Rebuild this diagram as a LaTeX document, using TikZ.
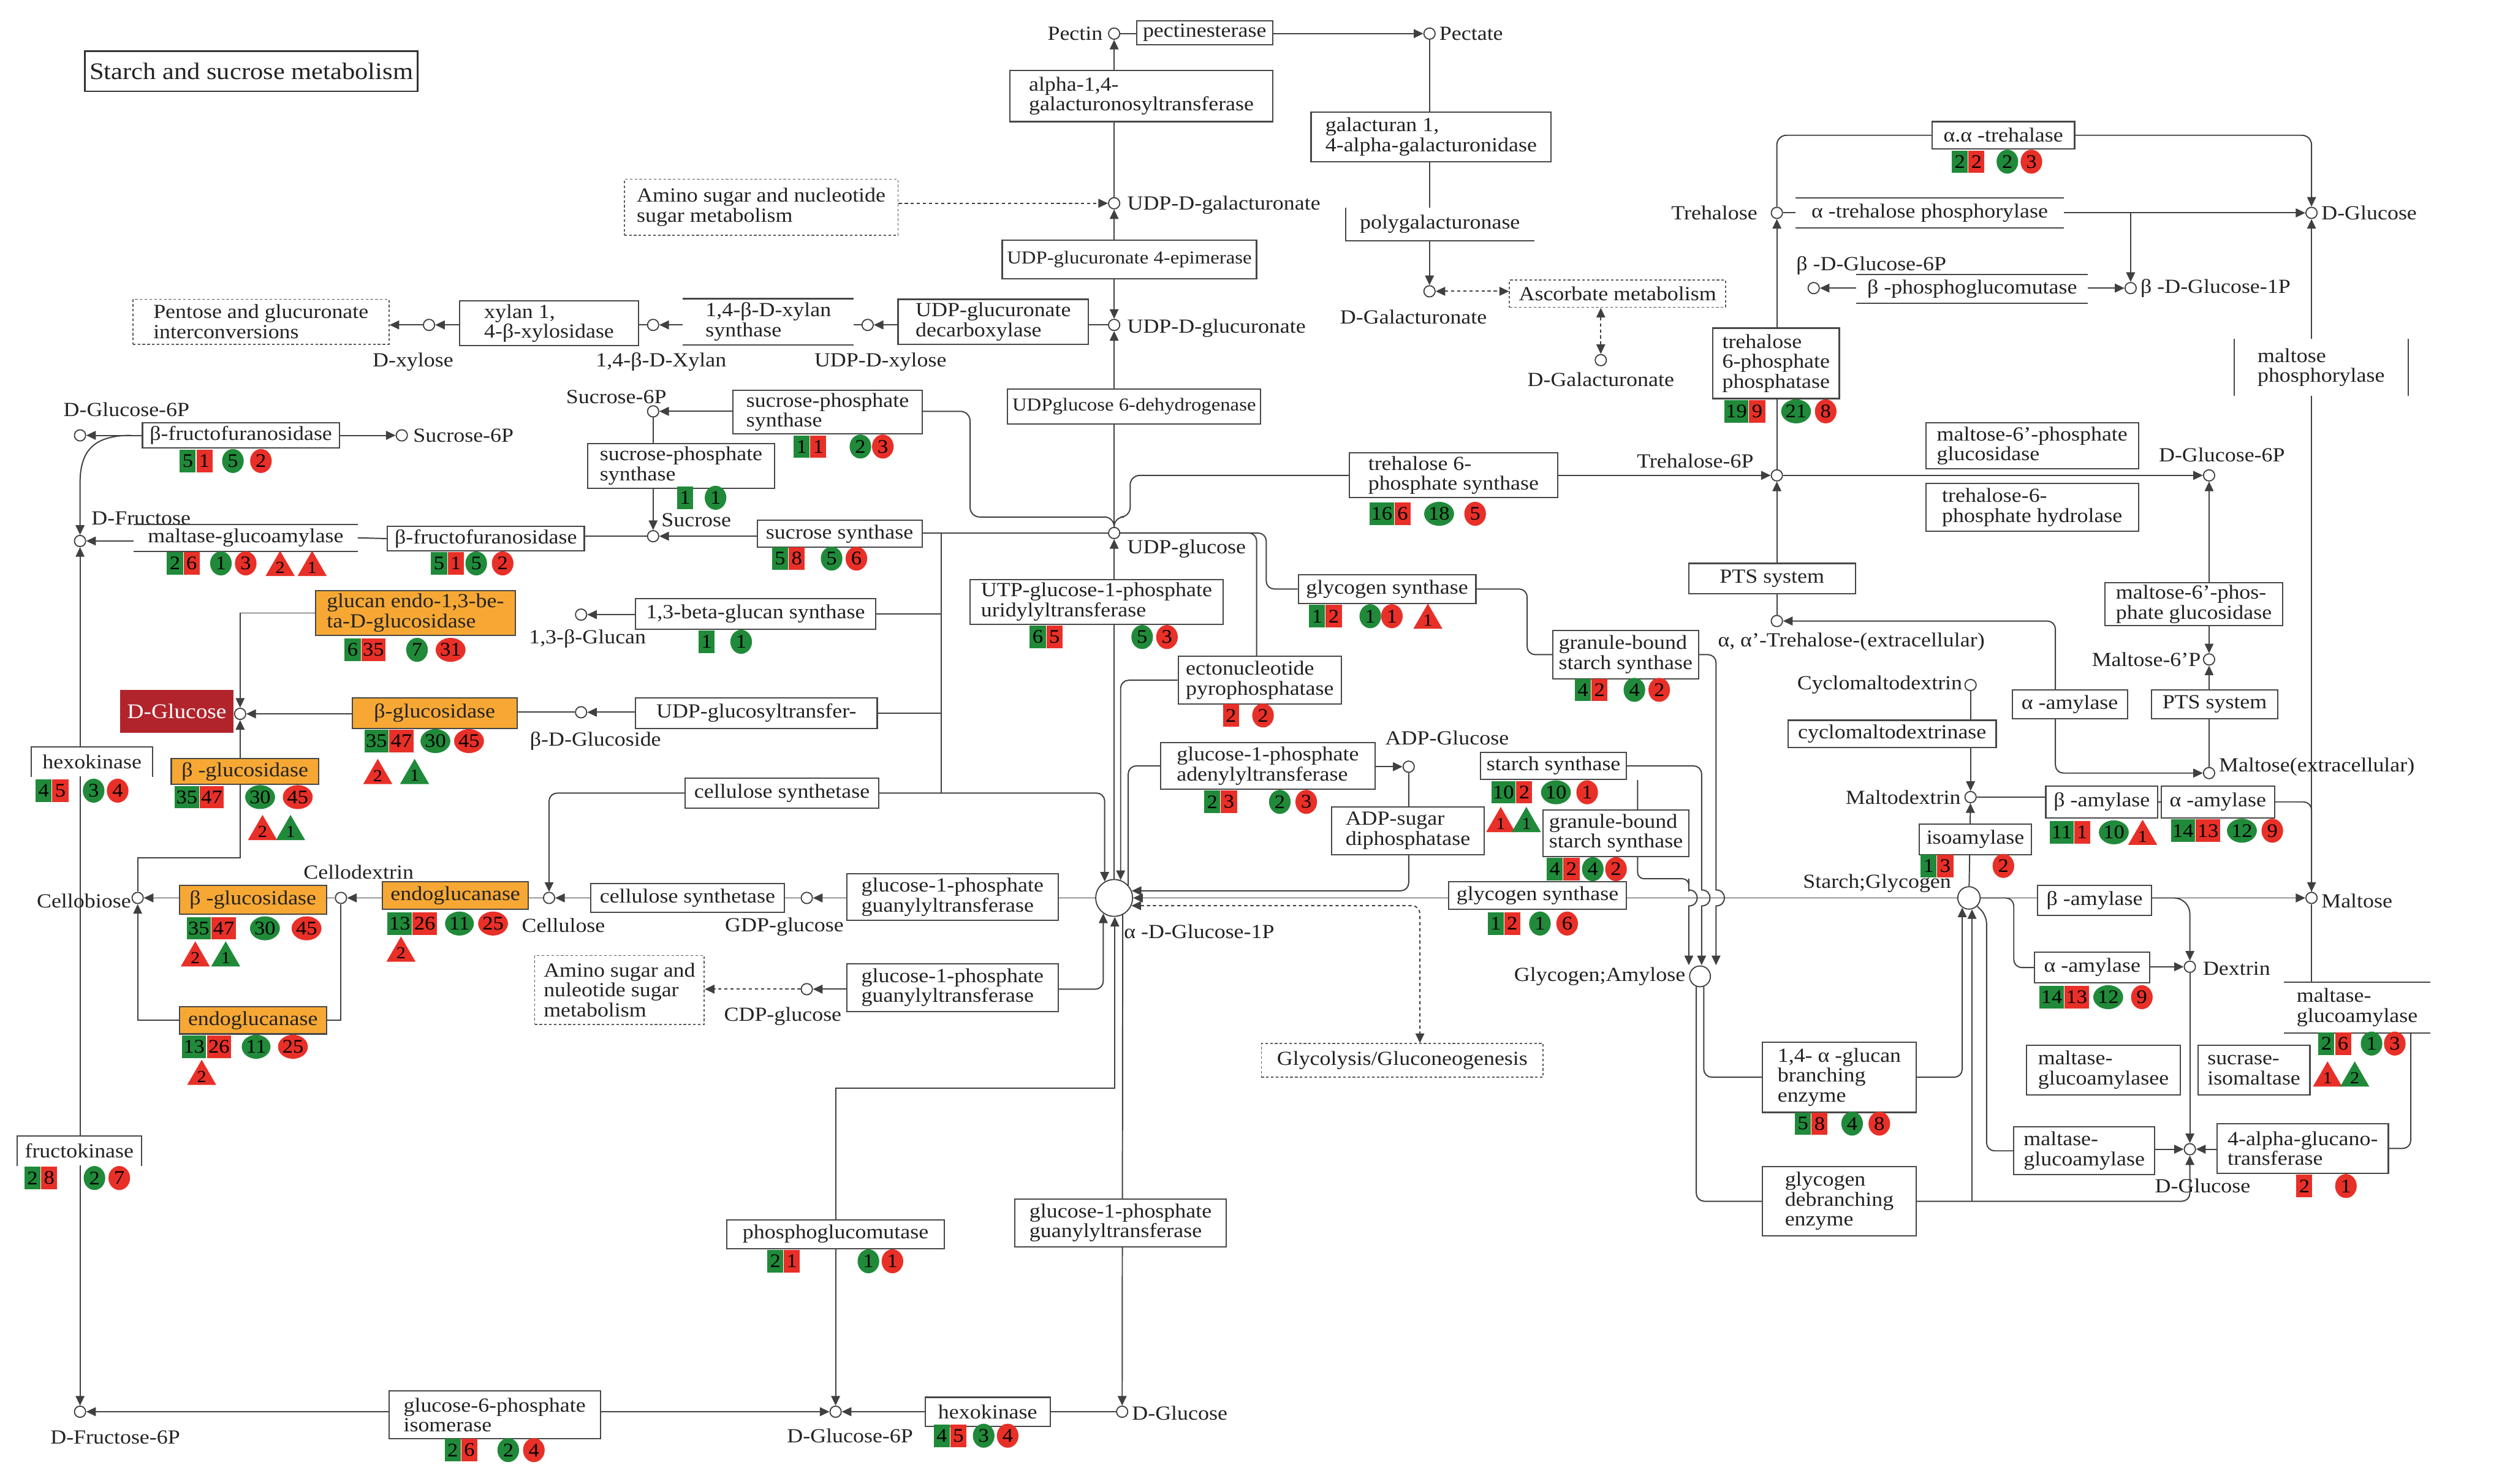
\documentclass[tikz,border=0pt]{standalone}
\usepackage{fontspec}
\setmainfont{Liberation Serif}[FakeStretch=1.1]
\usetikzlibrary{arrows.meta,shapes.geometric}
\definecolor{kg}{RGB}{32,138,58}
\definecolor{kr}{RGB}{232,48,40}
\definecolor{korange}{RGB}{247,168,52}
\definecolor{kdred}{RGB}{178,36,44}
\definecolor{ink}{RGB}{35,35,35}
\pgfdeclarelayer{back}
\pgfdeclarelayer{bg}
\pgfsetlayers{back,bg,main}
\newcommand\lblfont{\fontsize{12.5}{12.5}\selectfont}
\newcommand\smfont{\fontsize{11.4}{11.5}\selectfont}
\newcommand\bfnt{\fontsize{12}{12}\selectfont}
\newcommand\tfnt{\fontsize{10.5}{10.5}\selectfont}
\newcounter{bc}
\tikzset{
 enz/.style={draw=black!72,line width=0.8pt,fill=white,inner xsep=3pt,inner ysep=0pt,align=left,font=\lblfont,text=ink},
 orng/.style={fill=korange},
 dbox/.style={draw=black!65,dash pattern=on 1.6pt off 1.4pt,line width=0.7pt},
 nob/.style={draw=none},
 lbl/.style={inner sep=0pt,font=\lblfont,text=ink},
 cpd/.style={circle,draw=black!75,line width=0.7pt,fill=white,minimum size=7pt,inner sep=0pt},
 ln/.style={draw=black!75,line width=0.75pt},
 dsl/.style={dash pattern=on 2pt off 1.8pt},
 bl/.style={draw=black!72,line width=0.8pt},
 arr/.style={-{Triangle[length=6pt,width=5.5pt]}},
 arrb/.style={{Triangle[length=6pt,width=5.5pt]}-{Triangle[length=6pt,width=5.5pt]}},
 bsq/.style={rectangle,inner xsep=1pt,inner ysep=0pt,minimum height=14pt,minimum width=10pt,font=\bfnt,text=black},
 bci/.style={ellipse,inner sep=0pt,minimum height=15pt,minimum width=13.5pt,font=\bfnt,text=black},
 btr/.style={regular polygon,regular polygon sides=3,inner sep=0pt,minimum size=21pt,font=\tfnt,text=black},
}
\newcommand\EB[7][]{\pgfmathsetmacro\ebw{(#5)-(#3)}\pgfmathsetmacro\ebh{(#6)-(#4)}%
 \pgfmathsetmacro\ebx{((#3)+(#5))/2}\pgfmathsetmacro\eby{((#4)+(#6))/2}%
 \node[enz,minimum width=\ebw pt,minimum height=\ebh pt,#1] (#2) at (\ebx,\eby) {#7};}
\newcommand\SQ[4]{\stepcounter{bc}\node[bsq,fill=kg,anchor=east] (bd\arabic{bc}) at (#1,#2) {#3};\stepcounter{bc}\node[bsq,fill=kr,anchor=west] (bd\arabic{bc}) at (#1,#2) {#4};}
\newcommand\GS[3]{\stepcounter{bc}\node[bsq,fill=kg] (bd\arabic{bc}) at (#1,#2) {#3};}
\newcommand\RS[3]{\stepcounter{bc}\node[bsq,fill=kr] (bd\arabic{bc}) at (#1,#2) {#3};}
\newcommand\GC[3]{\stepcounter{bc}\node[bci,fill=kg] (bd\arabic{bc}) at (#1,#2) {#3};}
\newcommand\RC[3]{\stepcounter{bc}\node[bci,fill=kr] (bd\arabic{bc}) at (#1,#2) {#3};}
\newcommand\GT[3]{\stepcounter{bc}\node[btr,fill=kg] (bd\arabic{bc}) at (#1,{#2+2.6}) {#3};}
\newcommand\RT[3]{\stepcounter{bc}\node[btr,fill=kr] (bd\arabic{bc}) at (#1,{#2+2.6}) {#3};}
\begin{document}
\begin{tikzpicture}[x=1pt,y=-1pt]
\useasboundingbox (0,0) rectangle (1568,927);
\begin{pgfonlayer}{back}
\fill[white] (0,0) rectangle (1568,927);
\end{pgfonlayer}
% ---------- title
\node[draw=black!80,line width=1pt,font=\fontsize{14.8}{16}\selectfont,text=ink,minimum width=208pt,minimum height=25pt,inner sep=0pt] (title) at (157,44.5) {Starch and sucrose metabolism};
% ---------- compounds
\node[cpd] (cPectin) at (696,21) {};
\node[cpd] (cPectate) at (893,21) {};
\node[cpd] (cUDPgal) at (696,127) {};
\node[cpd] (cUDPglc) at (696,203) {};
\node[cpd] (cUDPxyl) at (542,203) {};
\node[cpd] (cXylan) at (408,203) {};
\node[cpd] (cXylose) at (268,203) {};
\node[cpd] (cDGalA) at (893,182) {};
\node[cpd] (cDGalB) at (1000,225) {};
\node[cpd] (cG6Ptl) at (50,272) {};
\node[cpd] (cS6Pa) at (251,272) {};
\node[cpd] (cS6Pb) at (408,257) {};
\node[cpd] (cSuc) at (408,335) {};
\node[cpd] (cFru) at (50,338) {};
\node[cpd] (cUDPG) at (696,333) {};
\node[cpd] (cGlucan) at (363,384) {};
\node[cpd] (cGlucoside) at (363,445) {};
\node[cpd] (cGlc) at (150,446) {};
\node[cpd] (cCellobiose) at (86,561) {};
\node[cpd] (cCellodextrin) at (213,561) {};
\node[cpd] (cCellulose) at (343,561) {};
\node[cpd] (cGDP) at (504,561) {};
\node[cpd] (cCDP) at (504,618) {};
\node[cpd,minimum size=23pt] (cG1P) at (696,561) {};
\node[cpd] (cADPG) at (880,479) {};
\node[cpd,minimum size=13pt] (cGlyAm) at (1062,610) {};
\node[cpd,minimum size=14pt] (cStarch) at (1230,561) {};
\node[cpd] (cTre) at (1110,133) {};
\node[cpd] (cT6P) at (1110,297) {};
\node[cpd] (cTreEx) at (1110,388) {};
\node[cpd] (cDGlcR) at (1444,133) {};
\node[cpd] (cbG1P) at (1331,180) {};
\node[cpd] (cbG6P) at (1133,180) {};
\node[cpd] (cG6PR) at (1380,297) {};
\node[cpd] (cM6P) at (1380,412) {};
\node[cpd] (cMalEx) at (1380,483) {};
\node[cpd] (cCyclo) at (1231,428) {};
\node[cpd] (cMdex) at (1231,498) {};
\node[cpd] (cMaltose) at (1444,561) {};
\node[cpd] (cDextrin) at (1368,604) {};
\node[cpd] (cDGlcB) at (1368,718) {};
\node[cpd] (cF6P) at (50,882) {};
\node[cpd] (cG6Pb) at (522,882) {};
\node[cpd] (cGlcB) at (701,882) {};
% ---------- compound labels
\node[lbl,anchor=east] (lPectin) at (689,21) {Pectin};
\node[lbl,anchor=west] (lPectate) at (899,21) {Pectate};
\node[lbl,anchor=west] (lUDPgal) at (704,128) {UDP-D-galacturonate};
\node[lbl,anchor=west] (lUDPglc) at (704,205) {UDP-D-glucuronate};
\node[lbl] (lUDPxyl) at (550,226) {UDP-D-xylose};
\node[lbl] (lXylan) at (413,226) {1,4-β-D-Xylan};
\node[lbl] (lXylose) at (258,226) {D-xylose};
\node[lbl] (lDGalA) at (883,198) {D-Galacturonate};
\node[lbl] (lDGalB) at (1000,237) {D-Galacturonate};
\node[lbl] (lG6Ptl) at (79,256) {D-Glucose-6P};
\node[lbl,anchor=west] (lS6Pa) at (258,272) {Sucrose-6P};
\node[lbl] (lS6Pb) at (385,248) {Sucrose-6P};
\node[lbl,anchor=west] (lSuc) at (413,325) {Sucrose};
\node[lbl,anchor=west] (lFru) at (57,324) {D-Fructose};
\node[lbl,anchor=west] (lUDPG) at (704,343) {UDP-glucose};
\node[lbl] (lGlucan) at (367,399) {1,3-β-Glucan};
\node[lbl] (lGlucoside) at (372,463) {β-D-Glucoside};
\node[lbl] (lCellodextrin) at (224,545) {Cellodextrin};
\node[lbl,anchor=east] (lCellobiose) at (82,563) {Cellobiose};
\node[lbl] (lCellulose) at (352,578) {Cellulose};
\node[lbl] (lGDP) at (490,579) {GDP-glucose};
\node[lbl] (lCDP) at (489,635) {CDP-glucose};
\node[lbl,anchor=west] (lG1P) at (702,582) {α -D-Glucose-1P};
\node[lbl] (lADPG) at (904,461) {ADP-Glucose};
\node[lbl,anchor=east] (lGlyAm) at (1053,610) {Glycogen;Amylose};
\node[lbl,anchor=east] (lStarch) at (1219,552) {Starch;Glycogen};
\node[lbl,anchor=east] (lTre) at (1098,133) {Trehalose};
\node[lbl] (lT6P) at (1059,288) {Trehalose-6P};
\node[lbl,anchor=west] (lTreEx) at (1073,401) {α, α’-Trehalose-(extracellular)};
\node[lbl,anchor=east] (lCyclo) at (1226,428) {Cyclomaltodextrin};
\node[lbl,anchor=east] (lMdex) at (1225,498) {Maltodextrin};
\node[lbl,anchor=west] (lDGlcR) at (1450,133) {D-Glucose};
\node[lbl,anchor=west] (lbG1P) at (1337,180) {β -D-Glucose-1P};
\node[lbl] (lbG6P) at (1169,166) {β -D-Glucose-6P};
\node[lbl] (lG6PR) at (1388,284) {D-Glucose-6P};
\node[lbl,anchor=east] (lM6P) at (1375,412) {Maltose-6’P};
\node[lbl,anchor=west] (lMalEx) at (1386,479) {Maltose(extracellular)};
\node[lbl,anchor=west] (lMaltose) at (1450,563) {Maltose};
\node[lbl,anchor=west] (lDextrin) at (1376,605) {Dextrin};
\node[lbl] (lDGlcB) at (1376,741) {D-Glucose};
\node[lbl] (lF6P) at (72,898) {D-Fructose-6P};
\node[lbl] (lG6Pb) at (531,897) {D-Glucose-6P};
\node[lbl,anchor=west] (lGlcB) at (707,883) {D-Glucose};
% ---------- enzyme boxes
\EB{pectinest}{710}{13}{795}{28}{pectinesterase}
\EB{galtr}{631}{44}{795}{76}{alpha-1,4-\\galacturonosyltransferase}
\EB{galacturan}{819}{70}{969}{101}{galacturan 1,\\4-alpha-galacturonidase}
\EB[nob]{polygal}{841}{130}{958}{150}{polygalacturonase}
\EB[dbox]{ascorbate}{943}{175}{1078}{192}{Ascorbate metabolism}
\EB[dbox]{aminoA}{390}{112}{561}{147}{Amino sugar and nucleotide\\sugar metabolism}
\EB[font=\smfont]{epim}{627}{150}{784}{174}{UDP-glucuronate 4-epimerase}
\EB{decarb}{561}{187}{680}{215}{UDP-glucuronate\\decarboxylase}
\EB[nob]{xylsyn}{427}{187}{533}{215}{1,4-β-D-xylan\\synthase}
\EB{xylosid}{287}{188}{399}{216}{xylan 1,\\4-β-xylosidase}
\EB[dbox]{pentose}{83}{187}{243}{215}{Pentose and glucuronate\\interconversions}
\EB[font=\smfont]{dehyd}{632}{243}{785}{265}{UDPglucose 6-dehydrogenase}
\EB{bff1}{89}{264}{212}{280}{β-fructofuranosidase}
\EB{sps1}{458}{244}{576}{271}{sucrose-phosphate\\synthase}
\EB{sps2}{367}{277}{484}{305}{sucrose-phosphate\\synthase}
\EB[nob]{mga1}{84}{328}{223}{344}{maltase-glucoamylase}
\EB{bff2}{242}{329}{365}{344}{β-fructofuranosidase}
\EB{sucsyn}{473}{325}{576}{342}{sucrose synthase}
\EB[orng]{glucanendo}{197}{369}{322}{397}{glucan endo-1,3-be-\\ta-D-glucosidase}
\EB[orng]{bgs1}{220}{436}{323}{455}{β-glucosidase}
\EB{glucansyn}{397}{374}{547}{393}{1,3-beta-glucan synthase}
\EB{udpgt}{397}{436}{548}{455}{UDP-glucosyltransfer-}
\EB[nob]{hexo1}{20}{467}{95}{485}{hexokinase}
\EB[orng]{bgs2}{107}{474}{199}{490}{β -glucosidase}
\EB{cellsyn1}{428}{486}{549}{505}{cellulose synthetase}
\EB[orng]{bgs3}{112}{553}{204}{571}{β -glucosidase}
\EB[orng]{endo1}{239}{551}{330}{568}{endoglucanase}
\EB{cellsyn2}{369}{552}{490}{570}{cellulose synthetase}
\EB{gpgt1}{529}{546}{661}{575}{glucose-1-phosphate\\guanylyltransferase}
\EB{gpgt2}{529}{602}{661}{632}{glucose-1-phosphate\\guanylyltransferase}
\EB[dbox]{aminoB}{334}{597}{440}{640}{Amino sugar and\\nuleotide sugar\\metabolism}
\EB[orng]{endo2}{112}{629}{204}{646}{endoglucanase}
\EB[nob]{fructok}{11}{710}{88}{728}{fructokinase}
\EB{pgm}{454}{762}{590}{780}{phosphoglucomutase}
\EB{gpgt3}{634}{749}{766}{779}{glucose-1-phosphate\\guanylyltransferase}
\EB{g6pi}{243}{869}{375}{899}{glucose-6-phosphate\\isomerase}
\EB{hexo2}{578}{873}{656}{891}{hexokinase}
\EB{utp}{606}{362}{764}{390}{UTP-glucose-1-phosphate\\uridylyltransferase}
\EB{ecto}{736}{410}{838}{440}{ectonucleotide\\pyrophosphatase}
\EB{adpt}{725}{464}{859}{493}{glucose-1-phosphate\\adenylyltransferase}
\EB{adpsug}{832}{504}{927}{534}{ADP-sugar\\diphosphatase}
\EB{glysyn1}{811}{359}{922}{377}{glycogen synthase}
\EB{gbss1}{970}{394}{1061}{424}{granule-bound\\starch synthase}
\EB{starchsyn}{925}{470}{1016}{487}{starch synthase}
\EB{gbss2}{964}{506}{1055}{535}{granule-bound\\starch synthase}
\EB{glysyn2}{905}{551}{1016}{568}{glycogen synthase}
\EB[dbox]{glycolysis}{788}{652}{964}{673}{Glycolysis/Gluconeogenesis}
\EB{t6ps}{843}{283}{973}{311}{trehalose 6-\\phosphate synthase}
\EB{t6pp}{1070}{205}{1149}{249}{trehalose\\6-phosphate\\phosphatase}
\EB{pts1}{1055}{352}{1159}{371}{PTS system}
\EB{trehalase}{1207}{76}{1296}{93}{α.α -trehalase}
\EB[nob]{trephos}{1122}{124}{1289}{142}{α -trehalose phosphorylase}
\EB[nob]{bpgm}{1160}{172}{1304}{189}{β -phosphoglucomutase}
\EB[nob]{maltphos}{1396}{212}{1504}{247}{maltose\\phosphorylase}
\EB{m6pg}{1203}{264}{1336}{293}{maltose-6'-phosphate\\glucosidase}
\EB{t6ph}{1203}{302}{1336}{332}{trehalose-6-\\phosphate hydrolase}
\EB{m6pg2}{1315}{364}{1426}{391}{maltose-6'-phos-\\phate glucosidase}
\EB{pts2}{1344}{431}{1423}{449}{PTS system}
\EB{aamy1}{1257}{431}{1329}{449}{α -amylase}
\EB{cdase}{1117}{450}{1247}{467}{cyclomaltodextrinase}
\EB{bamy1}{1278}{491}{1348}{511}{β -amylase}
\EB{aamy2}{1350}{491}{1421}{511}{α -amylase}
\EB{isoamy}{1199}{515}{1269}{534}{isoamylase}
\EB{bamy2}{1273}{553}{1344}{572}{β -amylase}
\EB{aamy3}{1271}{595}{1343}{614}{α -amylase}
\EB[nob]{mga2}{1427}{614}{1518}{645}{maltase-\\glucoamylase}
\EB{branch}{1101}{651}{1197}{695}{1,4- α -glucan\\branching\\enzyme}
\EB{mgae}{1266}{653}{1362}{684}{maltase-\\glucoamylasee}
\EB{sis}{1373}{653}{1443}{684}{sucrase-\\isomaltase}
\EB{mga3}{1258}{704}{1346}{734}{maltase-\\glucoamylase}
\EB{agt}{1385}{702}{1492}{733}{4-alpha-glucano-\\transferase}
\EB{debranch}{1101}{729}{1197}{772}{glycogen\\debranching\\enzyme}
\node[fill=kdred,text=white,font=\fontsize{13}{13}\selectfont,minimum width=71pt,minimum height=27pt,inner sep=0pt] (dglcbox) at (110.5,444.5) {D-Glucose};
% partial borders
\draw[bl] (xylsyn.north west) -- (xylsyn.north east) (xylsyn.south west) -- (xylsyn.south east);
\draw[bl] (mga1.north west) -- (mga1.north east) (mga1.south west) -- (mga1.south east);
\draw[bl] (trephos.north west) -- (trephos.north east) (trephos.south west) -- (trephos.south east);
\draw[bl] (bpgm.north west) -- (bpgm.north east) (bpgm.south west) -- (bpgm.south east);
\draw[bl] (mga2.north west) -- (mga2.north east) (mga2.south west) -- (mga2.south east);
\draw[bl] (polygal.north west) -- (polygal.south west) -- (polygal.south east);
\draw[bl] (maltphos.north west) -- (maltphos.south west) (maltphos.north east) -- (maltphos.south east);
\draw[bl] (hexo1.south west) -- (hexo1.north west) -- (hexo1.north east) -- (hexo1.south east);
\draw[bl] (fructok.south west) -- (fructok.north west) -- (fructok.north east) -- (fructok.south east);
% ---------- badges
\SQ{122.5}{288}{5}{1}\GC{145.5}{288}{5}\RC{163}{288}{2}
\SQ{506}{279}{1}{1}\GC{537.5}{279}{2}\RC{551.5}{279}{3}
\GS{428}{311}{1}\GC{447}{311}{1}
\SQ{114.5}{352}{2}{6}\GC{138}{352}{1}\RC{153.5}{352}{3}\RT{175}{352}{2}\RT{195}{352}{1}
\SQ{279.5}{352}{5}{1}\GC{297.5}{352}{5}\RC{314}{352}{2}
\SQ{492.5}{349}{5}{8}\GC{519.5}{349}{5}\RC{535}{349}{6}
\SQ{225.5}{406}{6}{35}\GC{260.5}{406}{7}\RC{281.5}{406}{31}
\GS{441.5}{401}{1}\GC{463}{401}{1}
\SQ{243}{463}{35}{47}\GC{272}{463}{30}\RC{293}{463}{45}\RT{236}{482}{2}\GT{259}{482}{1}
\SQ{653.5}{398}{6}{5}\GC{713.5}{398}{5}\RC{729}{398}{3}
\RS{769}{447}{2}\RC{789}{447}{2}
\SQ{32.5}{494}{4}{5}\GC{58.5}{494}{3}\RC{73.5}{494}{4}
\SQ{124.5}{498}{35}{47}\GC{162.5}{498}{30}\RC{186}{498}{45}\RT{164}{517}{2}\GT{181.5}{517}{1}
\SQ{762.5}{501}{2}{3}\GC{799.5}{501}{2}\RC{816}{501}{3}
\SQ{828}{385}{1}{2}\GC{856}{385}{1}\RC{869.5}{385}{1}\RT{892}{385}{1}
\SQ{994}{431}{4}{2}\GC{1021}{431}{4}\RC{1036.5}{431}{2}
\SQ{947}{495}{10}{2}\GC{972}{495}{10}\RC{991.5}{495}{1}\RT{937.5}{512}{1}\GT{953.5}{512}{1}
\SQ{976.5}{543}{4}{2}\GC{995}{543}{4}\RC{1009.5}{543}{2}
\SQ{939.5}{577}{1}{2}\GC{962}{577}{1}\RC{979}{577}{6}
\SQ{132}{580}{35}{47}\GC{165.5}{580}{30}\RC{191.5}{580}{45}\RT{122}{596}{2}\GT{141}{596}{1}
\SQ{257.5}{577}{13}{26}\GC{287}{577}{11}\RC{308}{577}{25}\RT{250.5}{593}{2}
\SQ{129}{654}{13}{26}\GC{160}{654}{11}\RC{183}{654}{25}\RT{126}{670}{2}
\SQ{25.5}{736}{2}{8}\GC{59}{736}{2}\RC{74.5}{736}{7}
\SQ{489.5}{788}{2}{1}\GC{542.5}{788}{1}\RC{557.5}{788}{1}
\SQ{593.5}{897}{4}{5}\GC{614.5}{897}{3}\RC{629.5}{897}{4}
\SQ{288}{906}{2}{6}\GC{317.5}{906}{2}\RC{333.5}{906}{4}
\SQ{871}{321}{16}{6}\GC{899}{321}{18}\RC{921.5}{321}{5}
\SQ{1092.5}{257}{19}{9}\GC{1122}{257}{21}\RC{1140.5}{257}{8}
\SQ{1229.5}{101}{2}{2}\GC{1254}{101}{2}\RC{1269}{101}{3}
\SQ{1295.5}{520}{11}{1}\GC{1320.5}{520}{10}\RT{1338.5}{520}{1}
\SQ{1371.5}{519}{14}{13}\GC{1400.5}{519}{12}\RC{1419.5}{519}{9}
\SQ{1210}{541}{1}{3}\RC{1251.5}{541}{2}
\SQ{1289.5}{623}{14}{13}\GC{1317}{623}{12}\RC{1338}{623}{9}
\SQ{1458.5}{652}{2}{6}\GC{1481.5}{652}{1}\RC{1496}{652}{3}\RT{1454}{671}{1}\GT{1471}{671}{2}
\SQ{1131.5}{702}{5}{8}\GC{1157}{702}{4}\RC{1174}{702}{8}
\RS{1439.5}{741}{2}\RC{1465.5}{741}{1}
% ---------- connectors
\coordinate (j1) at (82,272);
\coordinate (jt) at (cbG1P |- cTre);
\begin{pgfonlayer}{bg}
% top
\draw[ln] (cPectin) -- (cPectin -| pectinest.west);
\draw[ln,arr] (pectinest.east |- cPectate) -- (cPectate);
\draw[ln,arr] (galtr.north -| cPectin) -- (cPectin);
\draw[ln] (cUDPgal) -- (galtr.south -| cUDPgal);
\draw[ln] (cPectate) -- (galacturan.north -| cPectate);
\draw[ln] (galacturan.south -| cPectate) -- (polygal.north -| cPectate);
\draw[ln,arr] (polygal.south -| cDGalA) -- (cDGalA);
\draw[ln,dsl,arrb] (cDGalA) -- (ascorbate.west |- cDGalA);
\draw[ln,dsl,arrb] (ascorbate.south -| cDGalB) -- (cDGalB);
\draw[ln,dsl,arr] (aminoA.east |- cUDPgal) -- (cUDPgal);
\draw[ln,arr] (epim.north -| cUDPgal) -- (cUDPgal);
\draw[ln,arr] (epim.south -| cUDPglc) -- (cUDPglc);
\draw[ln,arr] (dehyd.north -| cUDPglc) -- (cUDPglc);
\draw[ln] (cUDPglc) -- (decarb.east |- cUDPglc);
\draw[ln,arr] (decarb.west |- cUDPxyl) -- (cUDPxyl);
\draw[ln] (cUDPxyl) -- (xylsyn.east |- cUDPxyl);
\draw[ln,arr] (xylsyn.west |- cXylan) -- (cXylan);
\draw[ln] (cXylan) -- (xylosid.east |- cXylan);
\draw[ln,arr] (xylosid.west |- cXylose) -- (cXylose);
\draw[ln,arr] (cXylose) -- (pentose.east |- cXylose);
\draw[ln] (dehyd.south -| cUDPG) -- (cUDPG);
% left
\draw[ln,arr] (bff1.west |- cG6Ptl) -- (cG6Ptl);
\draw[ln,arr] (bff1.east |- cS6Pa) -- (cS6Pa);
\draw[ln,arr] (j1) .. controls (58,272) and (50,282) .. (50,302) -- (cFru.north);
\draw[ln,arr] (mga1.west |- cFru) -- (cFru);
\draw[ln] (mga1.east) -- (bff2.west);
\draw[ln] (bff2.east |- cSuc) -- (cSuc);
\draw[ln,arr] (sucsyn.west |- cSuc) -- (cSuc);
\draw[ln,arr] (sps1.west |- cS6Pb) -- (cS6Pb);
\draw[ln,arr] (cS6Pb) -- (cSuc);
\draw[ln,rounded corners=6pt] (sps1.east |- cS6Pb) -- (606,257) -- (606,323) -| (cUDPG.north);
\draw[ln,rounded corners=6pt] (t6ps.west |- cT6P) -| (706,323) -| (cUDPG.north);
\draw[ln] (sucsyn.east |- cUDPG) -- (cUDPG);
\draw[ln] (cUDPG -| 588,0) -- (cellsyn1.east -| 588,0);
\draw[ln] (glucansyn.east) -- (glucansyn.east -| 588,0);
\draw[ln] (udpgt.east) -- (udpgt.east -| 588,0);
\draw[ln,arr,rounded corners=5pt] (cellsyn1.east) -| (cG1P.120);
\draw[ln,arr] (glucansyn.west |- cGlucan) -- (cGlucan);
\draw[ln,arr] (udpgt.west |- cGlucoside) -- (cGlucoside);
\draw[ln] (cGlucoside) -- (bgs1.east |- cGlucoside);
\draw[ln,arr] (bgs1.west |- cGlc) -- (cGlc);
\draw[ln,arr] (glucanendo.west) -| (cGlc.north);
\draw[ln,arr] (cGlc |- bgs2.north) -- (cGlc);
\draw[ln] (cGlc |- bgs2.south) -- (cGlc |- 0,536) -| (cCellobiose.north);
\draw[ln,arr] (bgs3.west |- cCellobiose) -- (cCellobiose);
\draw[ln] (bgs3.east |- cCellodextrin) -- (cCellodextrin);
\draw[ln,arr] (endo1.west |- cCellodextrin) -- (cCellodextrin);
\draw[ln] (endo1.east |- cCellulose) -- (cCellulose);
\draw[ln,arr] (cellsyn2.west |- cCellulose) -- (cCellulose);
\draw[ln] (cellsyn2.east |- cGDP) -- (cGDP);
\draw[ln,arr,rounded corners=5pt] (cellsyn1.west) -| (cCellulose.north);
\draw[ln,arr] (gpgt1.west |- cGDP) -- (cGDP);
\draw[ln] (gpgt1.east |- cG1P) -- (cG1P);
\draw[ln,arr] (gpgt2.west |- cCDP) -- (cCDP);
\draw[ln,dsl,arr] (cCDP) -- (aminoB.east |- cCDP);
\draw[ln,arr,rounded corners=5pt] (gpgt2.east |- cCDP) -| (cG1P.235);
\draw[ln,arrb] (cG1P.272) -- (cG1P.272 |- 0,680) -- (cG6Pb |- 0,680) -- (cG6Pb.north);
\draw[ln,arr] (cG1P.297) -- (cGlcB);
\draw[ln,arr] (hexo2.west |- cG6Pb) -- (cG6Pb);
\draw[ln] (hexo2.east |- cGlcB) -- (cGlcB);
\draw[ln,arr] (g6pi.west |- cF6P) -- (cF6P);
\draw[ln,arr] (g6pi.east |- cG6Pb) -- (cG6Pb);
\draw[ln,arrb] (cFru) -- (cF6P);
\draw[ln,arr] (endo2.west) -| (cCellobiose.south);
\draw[ln] (endo2.east) -| (cCellodextrin.south);
% centre
\draw[ln,arr] (cG1P) -- (cUDPG);
\draw[ln,rounded corners=5pt] (cUDPG.east) -| (ecto.north -| 785,0);
\draw[ln,rounded corners=5pt] (cUDPG.east) -| (glysyn1.west -| 791,0) -- (glysyn1.west);
\draw[ln,arr,rounded corners=5pt] (ecto.west) -| (cG1P.70);
\draw[ln,rounded corners=5pt] (adpt.west) -| (cG1P.42);
\draw[ln,arr] (adpt.east |- cADPG) -- (cADPG);
\draw[ln,arr,rounded corners=5pt] (cADPG.south) |- (cG1P.22);
\draw[ln,arr] (cStarch) -- (cG1P);
\draw[ln,dsl,arrb,rounded corners=5pt] (cG1P.336) -| (glycolysis.north -| 887,0);
\draw[ln,rounded corners=5pt] (glysyn1.east) -| (gbss1.west -| 954,0) -- (gbss1.west);
\draw[ln,arr] (gbss1.east) [rounded corners=5pt] -- (gbss1.east -| 1072,0) -- (1072,540) [sharp corners] -- (1072,556) .. controls (1079,556) and (1079,566) .. (1072,566) -- (1072,603);
\draw[ln,arr] (starchsyn.east) [rounded corners=5pt] -- (starchsyn.east -| 1063,0) -- (1063,540) [sharp corners] -- (1063,556) .. controls (1070,556) and (1070,566) .. (1063,566) -- (1063,603);
\draw[ln,arr] (starchsyn.south -| 1023,0) [rounded corners=4pt] -- (1023,549) -- (1055,549) -- (1055,553) [sharp corners] -- (1055,556) .. controls (1062,556) and (1062,566) .. (1055,566) -- (1055,603);
% right
\draw[ln,arr] (t6ps.east |- cT6P) -- (cT6P);
\draw[ln,arr] (cT6P) -- (cTre);
\draw[ln,arr] (cTreEx) -- (cT6P);
\draw[ln,arr] (cT6P) -- (cG6PR);
\draw[ln,rounded corners=6pt] (cTre.north) |- (trehalase.west);
\draw[ln,arr,rounded corners=6pt] (trehalase.east) -| (cDGlcR.north);
\draw[ln] (cTre) -- (trephos.west |- cTre);
\draw[ln,arr] (trephos.east |- cDGlcR) -- (cDGlcR);
\draw[ln,arr] (jt) -- (cbG1P);
\draw[ln,arr] (bpgm.east |- cbG1P) -- (cbG1P);
\draw[ln,arr] (bpgm.west |- cbG6P) -- (cbG6P);
\draw[ln,arr] (maltphos.north -| cDGlcR) -- (cDGlcR);
\draw[ln] (cMaltose) -- (maltphos.south -| cMaltose);
\draw[ln,arr] (m6pg2.north -| cG6PR) -- (cG6PR);
\draw[ln,arr] (m6pg2.south -| cM6P) -- (cM6P);
\draw[ln,arr] (pts2.north -| cM6P) -- (cM6P);
\draw[ln] (cMalEx) -- (pts2.south -| cMalEx);
\draw[ln,arr,rounded corners=5pt] (aamy1.north -| 1284,0) |- (cTreEx);
\draw[ln,arr,rounded corners=5pt] (aamy1.south -| 1284,0) |- (cMalEx);
\draw[ln] (cCyclo) -- (cdase.north -| cCyclo);
\draw[ln,arr] (cdase.south -| cMdex) -- (cMdex);
\draw[ln] (cMdex) -- (bamy1.west |- cMdex);
\draw[ln] (bamy1.east) -- (aamy2.west);
\draw[ln,arr,rounded corners=5pt] (aamy2.east) -| (cMaltose.north);
\draw[ln,arr] (cStarch) -- (cMdex);
\draw[ln] (cStarch) -- (bamy2.west |- cStarch);
\draw[ln,arr] (bamy2.east |- cMaltose) -- (cMaltose);
\draw[ln,arr,rounded corners=10pt] (bamy2.east |- cMaltose) -| (cDextrin.north);
\draw[ln,rounded corners=5pt] (cStarch.east) -| (aamy3.west -| 1258,0) -- (aamy3.west);
\draw[ln,arr] (aamy3.east |- cDextrin) -- (cDextrin);
\draw[ln,arr] (cDextrin) -- (cDGlcB);
\draw[ln] (cMaltose) -- (mga2.north -| cMaltose);
\draw[ln,rounded corners=5pt] (mga2.south -| 1506,0) |- (agt.east);
\draw[ln,arr] (agt.west |- cDGlcB) -- (cDGlcB);
\draw[ln,rounded corners=5pt] (cStarch.315) -- (1241,572) -- (1241,719) -- (mga3.west);
\draw[ln,arr] (mga3.east |- cDGlcB) -- (cDGlcB);
\draw[ln,arr,rounded corners=5pt] (branch.east) -| (cStarch.235);
\draw[ln,rounded corners=5pt] (cGlyAm.290) |- (branch.west);
\draw[ln,rounded corners=5pt] (cGlyAm.250) |- (debranch.west);
\draw[ln,arr,rounded corners=5pt] (debranch.east) -| (cDGlcB.south);
\draw[ln,arr] (cStarch.285 |- debranch.east) -- (cStarch.285);
\end{pgfonlayer}
\end{tikzpicture}
\end{document}
